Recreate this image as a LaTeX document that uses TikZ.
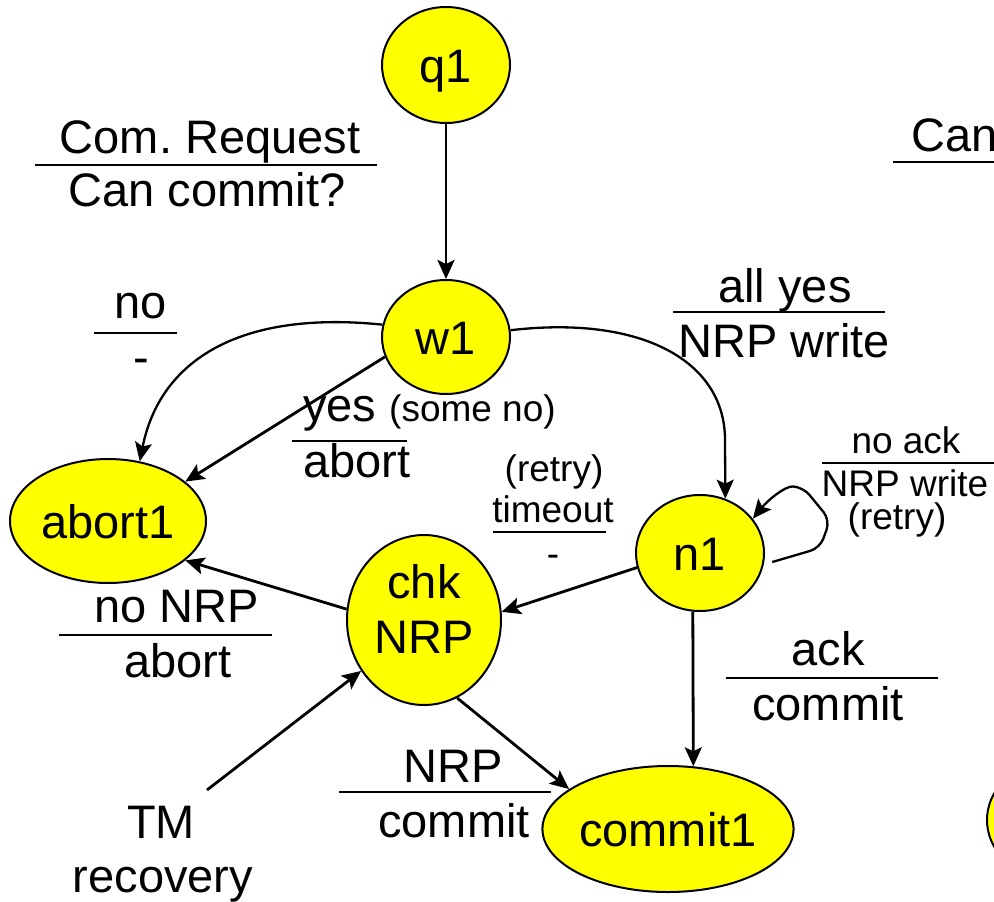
\documentclass[tikz,border=0pt]{standalone}
\usepackage{fontspec}
\setmainfont{Liberation Sans}
\frenchspacing
\usetikzlibrary{arrows.meta,shapes.geometric}
\definecolor{stateyellow}{HTML}{FFFF00}
\tikzset{
  bigfont/.style={font=\fontsize{47}{55}\selectfont},
  smallfont/.style={font=\fontsize{37}{44}\selectfont},
  state/.style={ellipse, draw=black, line width=2pt, fill=stateyellow, inner sep=0pt,
    bigfont, text height=34pt, text depth=0pt},
  lbl/.style={anchor=base, inner sep=0pt, bigfont},
  slbl/.style={anchor=base, inner sep=0pt, smallfont},
  bar/.style={line width=1.6pt},
  arr/.style={line width=2.8pt, -{Stealth[length=19pt,width=17pt,inset=4pt]}},
  carr/.style={line width=2.3pt, -{Stealth[length=19pt,width=17pt,inset=4pt]}}
}
\begin{document}
\begin{tikzpicture}[x=1pt,y=-1pt]
\useasboundingbox (0,0) rectangle (994,902);
\fill[white] (0,0) rectangle (994,902);

% states
\node[state, minimum width=128pt, minimum height=116pt] (q1) at (446,65) {q1};
\node[state, minimum width=128pt, minimum height=114pt] (w1) at (446,337) {w1};
\node[state, minimum width=196pt, minimum height=124pt] (abort1) at (108,521) {abort1};
\node[state, minimum width=154pt, minimum height=170pt] (chk) at (424,620) {};
\node[lbl] (chkA) at (424,598) {chk};
\node[lbl] (chkB) at (424,653) {NRP};
\node[state, minimum width=128pt, minimum height=116pt] (n1) at (700,553) {n1};
\node[state, minimum width=248pt, minimum height=126pt] (commit1) at (668,829) {commit1};
\node[state, minimum width=128pt, minimum height=116pt] (s2) at (1051,820) {};

% labels
\node[lbl] (l1a) at (210,153) {Com.\ Request};
\coordinate (b1a) at (35,165); \coordinate (b1b) at (377,165);
\draw[bar] (b1a) -- (b1b);
\node[lbl] (l1b) at (207,206) {Can commit?};

\node[lbl, anchor=base west] (l2a) at (911,151) {Can};
\coordinate (b2a) at (893,162); \coordinate (b2b) at (1000,162);
\draw[bar] (b2a) -- (b2b);

\node[lbl] (l3a) at (141,318) {no};
\coordinate (b3a) at (94,333); \coordinate (b3b) at (177,333);
\draw[bar] (b3a) -- (b3b);
\node[lbl] (l3b) at (141,373) {-};

\node[lbl, anchor=base west] (l4a) at (303,421) {yes};
\node[slbl, anchor=base west] (l4c) at (389,421) {(some no)};
\coordinate (b4a) at (292,441); \coordinate (b4b) at (407,441);
\draw[bar] (b4a) -- (b4b);
\node[lbl, anchor=base west] (l4b) at (303,477) {abort};

\node[slbl] (l5a) at (554,481) {(retry)};
\node[slbl] (l5b) at (553,522) {timeout};
\coordinate (b5a) at (493,532); \coordinate (b5b) at (606,532);
\draw[bar] (b5a) -- (b5b);
\node[slbl] (l5c) at (553,566) {-};

\node[lbl] (l6a) at (785,302) {all yes};
\coordinate (b6a) at (673,312); \coordinate (b6b) at (885,312);
\draw[bar] (b6a) -- (b6b);
\node[lbl] (l6b) at (784,357) {NRP write};

\node[slbl] (l7a) at (906,453) {no ack};
\coordinate (b7a) at (822,463); \coordinate (b7b) at (1000,463);
\draw[bar] (b7a) -- (b7b);
\node[slbl] (l7b) at (905,496) {NRP write};
\node[slbl] (l7c) at (897,529) {(retry)};

\node[lbl] (l8a) at (177,622) {no NRP};
\coordinate (b8a) at (59,635); \coordinate (b8b) at (272,635);
\draw[bar] (b8a) -- (b8b);
\node[lbl] (l8b) at (178,677) {abort};

\node[lbl] (l9a) at (828,665) {ack};
\coordinate (b9a) at (726,678); \coordinate (b9b) at (938,678);
\draw[bar] (b9a) -- (b9b);
\node[lbl] (l9b) at (828,720) {commit};

\node[lbl] (l10a) at (453,782) {NRP};
\coordinate (b10a) at (339,792); \coordinate (b10b) at (551,792);
\draw[bar] (b10a) -- (b10b);
\node[lbl] (l10b) at (454,837) {commit};

\node[lbl] (tm) at (161,838) {TM};
\node[lbl] (tmb) at (163,892) {recovery};
\coordinate (tmstart) at (207,790);

% connectors
\draw[arr] (q1.south) -- (w1.north);
\draw[carr] (w1.169) .. controls (240,310) and (160,360) .. (abort1.62);
\draw[arr] (w1.198) -- (abort1.27);
\draw[carr] (w1.6) .. controls (640,315) and (725,360) .. (725,440) -- (n1.65);
\draw[arr] (n1.193) -- (chk.6);
\draw[arr] (chk.172) -- (abort1.333);
\draw[arr] (chk.293) -- (commit1.158);
\draw[arr] (tmstart) -- (chk.219);
\draw[arr] (n1.263) -- (commit1.68);
\draw[carr, rounded corners=10pt] ([xshift=8pt]n1.-8) -- (820,548) -- (830,520) -- (803,487)
   .. controls (785,486) and (768,500) .. (n1.33);
\end{tikzpicture}
\end{document}
